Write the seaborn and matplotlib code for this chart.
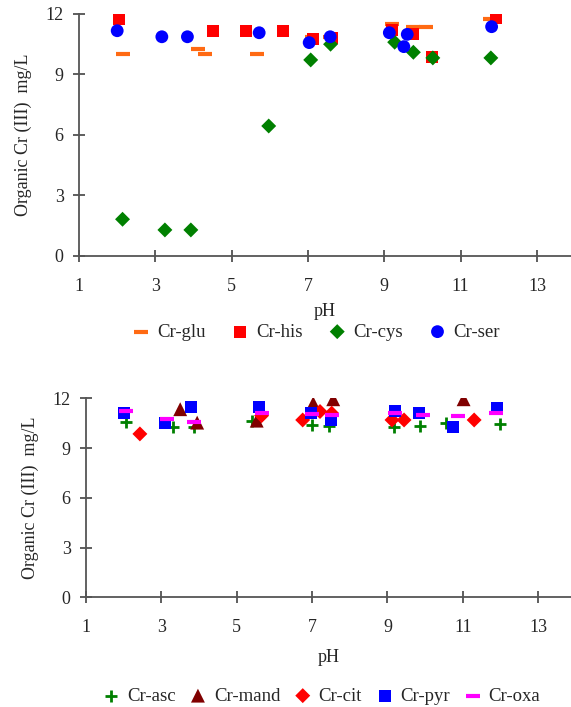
import numpy as np
import pandas as pd
import matplotlib as mpl
mpl.use("Agg")
import matplotlib.pyplot as plt
import seaborn as sns

# 上图：Cr-glu / Cr-his / Cr-cys / Cr-ser
glu_ph = [2.14, 4.13, 4.29, 5.65, 7.10, 7.58, 9.21, 9.74, 10.08, 11.77]
glu_val = [10.0, 10.28, 10.0, 10.0, 10.87, 10.87, 11.49, 11.37, 11.37, 11.75]
his_ph = [2.06, 4.52, 5.37, 6.35, 7.14, 7.62, 9.19, 9.76, 10.24, 11.92]
his_val = [11.75, 11.17, 11.17, 11.17, 10.74, 10.79, 11.2, 10.99, 9.88, 11.79]
cys_ph = [2.14, 3.25, 3.93, 5.97, 7.07, 7.59, 9.27, 9.76, 10.27, 11.79]
cys_val = [1.81, 1.28, 1.28, 6.44, 9.72, 10.5, 10.6, 10.1, 9.82, 9.82]
ser_ph = [2.0, 3.17, 3.84, 5.72, 7.03, 7.58, 9.13, 9.6, 9.51, 11.81]
ser_val = [11.17, 10.87, 10.87, 11.07, 10.58, 10.87, 11.07, 10.99, 10.38, 11.37]

# 下图：Cr-asc / Cr-mand / Cr-cit / Cr-pyr / Cr-oxa
asc_ph = [2.06, 3.32, 3.87, 5.40, 6.99, 7.46, 9.18, 9.87, 10.56, 11.99]
asc_val = [10.59, 10.29, 10.25, 10.65, 10.39, 10.35, 10.25, 10.33, 10.53, 10.45]
mand_ph = [3.5, 3.95, 5.53, 7.03, 7.56, 11.02]
mand_val = [11.34, 10.53, 10.65, 11.7, 11.94, 11.94]
cit_ph = [2.43, 5.66, 6.75, 7.21, 7.52, 9.12, 9.44, 11.3]
cit_val = [9.85, 10.95, 10.69, 11.2, 11.1, 10.69, 10.69, 10.69]
pyr_ph = [2.02, 3.1, 3.78, 5.59, 6.96, 7.5, 9.2, 9.84, 10.73, 11.9]
pyr_val = [11.1, 10.53, 11.5, 11.5, 11.13, 10.69, 11.26, 11.13, 10.29, 11.4]
oxa_ph = [2.06, 3.16, 3.87, 5.66, 6.99, 7.52, 9.2, 9.95, 10.87, 11.88]
oxa_val = [11.24, 10.75, 10.55, 11.13, 11.06, 11.0, 11.13, 11.0, 10.9, 11.13]

x_ticks = [1, 3, 5, 7, 9, 11, 13]
y_ticks = [0, 3, 6, 9, 12]

sns.set_style("ticks")
plt.rcParams['font.family'] = ['Liberation Serif', 'DejaVu Serif']
plt.rcParams['font.size'] = 13
plt.rcParams['axes.unicode_minus'] = False

fig = plt.figure(figsize=(5.71, 7.07), dpi=100)
ax1 = fig.add_axes([0.1384, 0.6383, 0.8616, 0.3419])
ax2 = fig.add_axes([0.1506, 0.1552, 0.8494, 0.2815])


def scatter(ax, xs, ys, label, marker, color, s, lw=0):
    df = pd.DataFrame({'pH': xs, 'v': ys})
    if lw > 0:
        sns.scatterplot(data=df, x='pH', y='v', ax=ax, marker=marker, color=color,
                        s=s, linewidth=lw, label=label)
    else:
        sns.scatterplot(data=df, x='pH', y='v', ax=ax, marker=marker, color=color,
                        s=s, linewidth=0, edgecolor='none', label=label)


scatter(ax1, glu_ph, glu_val, 'Cr-glu', '_', '#FF6A13', 95, lw=3)
scatter(ax1, his_ph, his_val, 'Cr-his', 's', '#FF0000', 75)
scatter(ax1, cys_ph, cys_val, 'Cr-cys', 'D', '#008000', 58)
scatter(ax1, ser_ph, ser_val, 'Cr-ser', 'o', '#0000FF', 85)

scatter(ax2, asc_ph, asc_val, 'Cr-asc', '+', '#008000', 85, lw=2)
scatter(ax2, mand_ph, mand_val, 'Cr-mand', '^', '#800000', 100)
scatter(ax2, cit_ph, cit_val, 'Cr-cit', 'D', '#FF0000', 58)
scatter(ax2, pyr_ph, pyr_val, 'Cr-pyr', 's', '#0000FF', 75)
scatter(ax2, oxa_ph, oxa_val, 'Cr-oxa', '_', '#FF00FF', 95, lw=3)

for ax, xmax, lp in [(ax1, 13.89, 6), (ax2, 13.87, 9)]:
    ax.set_xlim(1, xmax)
    ax.set_ylim(0, 12)
    ax.set_xticks(x_ticks)
    ax.set_yticks(y_ticks)
    for sp in ['top', 'right']:
        ax.spines[sp].set_visible(False)
    for sp in ['left', 'bottom']:
        ax.spines[sp].set_color('#555555')
        ax.spines[sp].set_linewidth(1.3)
    ax.tick_params(direction='inout', length=8, width=1.1, color='#333333',
                   labelsize=13, left=True, bottom=True)
    ax.tick_params(axis='x', pad=12)
    ax.tick_params(axis='y', pad=7)
    ax.set_xlabel('pH', fontsize=13, labelpad=lp)
    ax.set_ylabel('Organic Cr (III)  mg/L', fontsize=13, labelpad=10)
    ax.patch.set_alpha(0)

leg1 = ax1.legend(ncol=4, frameon=False, loc='center', bbox_to_anchor=(0.553, 1 - 332 / 707),
                  bbox_transform=fig.transFigure, handlelength=1.0, handletextpad=0.35,
                  columnspacing=1.35, fontsize=13.5, borderaxespad=0)
leg2 = ax2.legend(ncol=5, frameon=False, loc='center', bbox_to_anchor=(0.562, 1 - 696 / 707),
                  bbox_transform=fig.transFigure, handlelength=1.0, handletextpad=0.35,
                  columnspacing=0.7, fontsize=13.5, borderaxespad=0)

plt.savefig('out.png', dpi=100)
